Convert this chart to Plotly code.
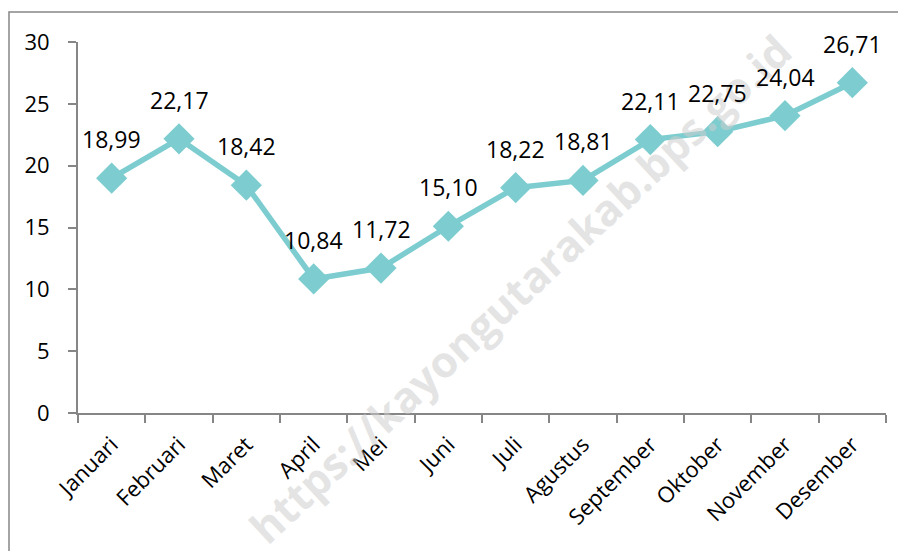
import plotly.graph_objects as go

months = [
    "Januari", "Februari", "Maret", "April", "Mei", "Juni",
    "Juli", "Agustus", "September", "Oktober", "November", "Desember",
]
values = [18.99, 22.17, 18.42, 10.84, 11.72, 15.10, 18.22, 18.81, 22.11, 22.75, 24.04, 26.71]
y_ticks = [0, 5, 10, 15, 20, 25, 30]

LINE_COLOR = "#7DCDD0"
AXIS_COLOR = "#868686"
FONT = "'Open Sans', sans-serif"

labels = [f"{v:.2f}".replace(".", ",") for v in values]

fig = go.Figure()

# watermark, drawn first so the data sits on top of it
fig.add_annotation(
    text="https://kayongutarakab.bps.go.id",
    x=0.547, y=0.335, xref="paper", yref="paper",
    xanchor="center", yanchor="middle",
    textangle=-43,
    showarrow=False,
    font={"size": 43, "color": "rgba(205,205,205,0.55)", "family": FONT, "weight": "bold"},
)

fig.add_trace(
    go.Scatter(
        x=months,
        y=values,
        mode="lines+markers",
        line={"color": LINE_COLOR, "width": 5.5},
        marker={"symbol": "diamond", "size": 24, "color": LINE_COLOR},
        cliponaxis=False,
        showlegend=False,
    )
)

for m, v, lab in zip(months, values, labels):
    fig.add_annotation(
        x=m, y=v, text=lab, showarrow=False, yshift=39,
        font={"size": 23, "color": "#000000", "family": FONT},
    )

fig.add_shape(
    type="rect", xref="paper", yref="paper",
    x0=-69 / 808, x1=1.1, y0=-0.6, y1=1.0807,
    line={"color": AXIS_COLOR, "width": 1.5},
)

fig.update_layout(
    width=906,
    height=551,
    margin={"l": 70, "r": 28, "t": 34, "b": 146, "autoexpand": False},
    plot_bgcolor="white",
    paper_bgcolor="white",
    font={"family": FONT, "size": 20, "color": "#000000"},
)
fig.update_xaxes(
    type="category",
    range=[-0.5, len(months) - 0.5],
    tickangle=-45,
    showline=True,
    linecolor=AXIS_COLOR,
    linewidth=2,
    ticks="outside",
    tickson="boundaries",
    ticklen=8,
    tickcolor=AXIS_COLOR,
    tickwidth=2,
    showgrid=False,
    automargin=False,
    tickfont={"size": 22},
    ticklabelstandoff=8,
)
fig.update_yaxes(
    range=[0, 30],
    tickvals=y_ticks,
    showline=True,
    linecolor=AXIS_COLOR,
    linewidth=2,
    ticks="outside",
    ticklen=8,
    tickcolor=AXIS_COLOR,
    tickwidth=2,
    showgrid=False,
    zeroline=False,
    automargin=False,
    tickfont={"size": 22},
    ticklabelstandoff=14,
)

fig.write_html("out.html")
